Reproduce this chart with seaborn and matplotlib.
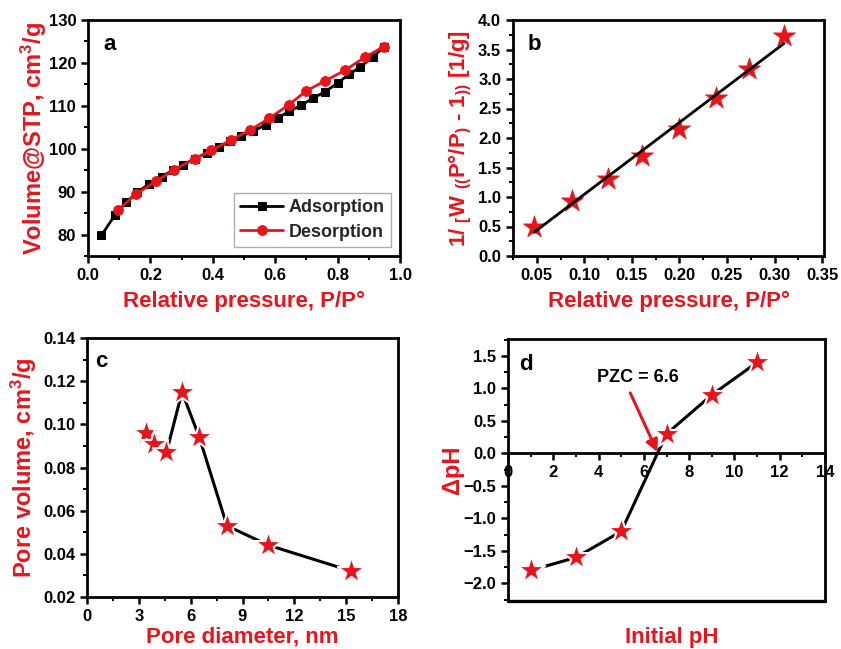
import numpy as np
import pandas as pd
import matplotlib
matplotlib.use("Agg")
import matplotlib.pyplot as plt
import seaborn as sns
from matplotlib.ticker import MultipleLocator

# ---------------- data ----------------
ads_p = [0.043, 0.086, 0.122, 0.158, 0.195, 0.236, 0.272, 0.306, 0.343, 0.38, 0.42, 0.455,
         0.49, 0.53, 0.57, 0.608, 0.645, 0.684, 0.722, 0.76, 0.8, 0.836, 0.873, 0.912, 0.95]
ads_v = [79.8, 84.5, 87.5, 89.8, 91.8, 93.5, 95.0, 96.3, 97.7, 99.0, 100.4, 101.7,
         102.9, 104.1, 105.6, 107.2, 108.7, 110.2, 111.8, 113.3, 115.3, 117.3, 119.1, 121.3, 123.8]
des_p = [0.096, 0.155, 0.218, 0.276, 0.342, 0.395, 0.457, 0.519, 0.581, 0.643, 0.70,
         0.76, 0.824, 0.887, 0.948]
des_v = [85.7, 89.5, 92.4, 95.1, 97.7, 99.6, 102.0, 104.3, 107.1, 110.2, 113.5,
         115.8, 118.3, 121.3, 123.8]

bet_p = [0.047, 0.087, 0.125, 0.161, 0.200, 0.238, 0.273, 0.310]
bet_y = [0.50, 0.93, 1.31, 1.69, 2.16, 2.68, 3.17, 3.73]

pore_d = [3.4, 3.9, 4.6, 5.5, 6.5, 8.1, 10.5, 15.3]
pore_v = [0.096, 0.091, 0.087, 0.115, 0.094, 0.053, 0.044, 0.032]

ph_init = [1, 3, 5, 7, 9, 11]
ph_delta = [-1.8, -1.6, -1.2, 0.3, 0.9, 1.4]
pzc_value = 6.6

# ---------------- style ----------------
sns.set_theme(style="ticks")
plt.rcParams["font.family"] = ["Liberation Sans", "DejaVu Sans"]
plt.rcParams.update({
    "font.weight": "bold",
    "axes.labelweight": "bold",
    "axes.linewidth": 2.0,
    "xtick.major.width": 1.8, "ytick.major.width": 1.8,
    "xtick.minor.width": 1.4, "ytick.minor.width": 1.4,
    "xtick.major.size": 5, "ytick.major.size": 5,
    "xtick.minor.size": 3, "ytick.minor.size": 3,
    "xtick.color": "black", "ytick.color": "black",
    "xtick.labelsize": 12, "ytick.labelsize": 12,
    "xtick.direction": "out", "ytick.direction": "out",
    "mathtext.fontset": "custom",
    "mathtext.rm": "Liberation Sans:bold",
    "mathtext.it": "Liberation Sans:bold",
    "mathtext.bf": "Liberation Sans:bold",
    "axes.edgecolor": "black",
})
RED = "#e8141b"

W, H = 841, 649
fig = plt.figure(figsize=(W / 100, H / 100), dpi=100)


def add_ax(l, t, r, b):
    return fig.add_axes([l / W, 1 - b / H, (r - l) / W, (b - t) / H])


axA = add_ax(88, 20, 400, 256)
axB = add_ax(513, 20, 824, 256)
axC = add_ax(87, 338, 398, 597)
axD = add_ax(508, 339, 825, 601)

for ax in (axA, axB, axC, axD):
    for s in ax.spines.values():
        s.set_linewidth(2.0)
        s.set_color("black")
    ax.tick_params(which="both", top=False, right=False)

XL = dict(fontsize=16, fontweight="bold", color=RED)
YL = dict(fontsize=17, fontweight="bold", color=RED)
PL = dict(fontsize=16, fontweight="bold", color="black")

# ---------------- panel a ----------------
df_a = pd.DataFrame({"p": ads_p, "v": ads_v})
df_d = pd.DataFrame({"p": des_p, "v": des_v})
sns.lineplot(data=df_a, x="p", y="v", ax=axA, color="black", marker="s", markersize=6,
             markeredgecolor="black", linewidth=2, label="Adsorption", estimator=None)
sns.lineplot(data=df_d, x="p", y="v", ax=axA, color=RED, marker="o", markersize=7,
             markeredgecolor=RED, linewidth=2, label="Desorption", estimator=None)
axA.set_xlim(0, 1.0)
axA.set_ylim(75, 130)
axA.xaxis.set_major_locator(MultipleLocator(0.2))
axA.xaxis.set_minor_locator(MultipleLocator(0.1))
axA.yaxis.set_minor_locator(MultipleLocator(5))
axA.set_yticks([80, 90, 100, 110, 120, 130])
axA.set_xlabel("Relative pressure, P/P°", **XL, labelpad=6)
axA.set_ylabel("Volume@STP, cm$^{3}$/g", **YL)
axA.yaxis.set_label_coords(-0.125, 0.5)
leg = axA.legend(loc="lower right", frameon=True, fancybox=False, edgecolor="#999999",
                 fontsize=13, handlelength=2.4, borderpad=0.35, labelspacing=0.4,
                 handletextpad=0.3, borderaxespad=0.5)
leg.get_frame().set_linewidth(1.0)
for t in leg.get_texts():
    t.set_fontweight("bold")
axA.text(0.048, 0.873, "a", transform=axA.transAxes, **PL)

# ---------------- panel b ----------------
df_b = pd.DataFrame({"p": bet_p, "y": bet_y})
sns.scatterplot(data=df_b, x="p", y="y", ax=axB, marker="*", s=280, color=RED,
                edgecolor=RED, linewidth=0.5, zorder=2)
sns.regplot(data=df_b, x="p", y="y", ax=axB, scatter=False, ci=None,
            line_kws=dict(color="black", linewidth=2, zorder=3))
axB.set_xlim(0.025, 0.352)
axB.set_ylim(0, 4.0)
axB.xaxis.set_minor_locator(MultipleLocator(0.025))
axB.yaxis.set_major_locator(MultipleLocator(0.5))
axB.yaxis.set_minor_locator(MultipleLocator(0.25))
axB.set_xticks([0.05, 0.10, 0.15, 0.20, 0.25, 0.30, 0.35])
axB.set_xticklabels(["0.05", "0.10", "0.15", "0.20", "0.25", "0.30", "0.35"])
axB.set_xlabel("Relative pressure, P/P°", **XL, labelpad=6)
axB.set_ylabel("1/ $_{[}$W $_{((}$P°/P$_{)}$ - 1$_{))}$ [1/g]", **dict(YL, fontsize=16))
axB.yaxis.set_label_coords(-0.125, 0.5)
axB.text(0.048, 0.873, "b", transform=axB.transAxes, **PL)

# ---------------- panel c ----------------
df_c = pd.DataFrame({"d": pore_d, "v": pore_v})
sns.lineplot(data=df_c, x="d", y="v", ax=axC, color="black", linewidth=2.2, estimator=None)
sns.scatterplot(data=df_c, x="d", y="v", ax=axC, marker="*", s=430, color=RED,
                edgecolor="white", linewidth=1.5, zorder=3)
axC.set_xlim(0, 18)
axC.set_ylim(0.02, 0.14)
axC.xaxis.set_major_locator(MultipleLocator(3))
axC.xaxis.set_minor_locator(MultipleLocator(1.5))
axC.yaxis.set_major_locator(MultipleLocator(0.02))
axC.yaxis.set_minor_locator(MultipleLocator(0.01))
axC.set_xlabel("Pore diameter, nm", **XL, labelpad=2)
axC.set_ylabel("Pore volume, cm$^{3}$/g", **YL)
axC.yaxis.set_label_coords(-0.155, 0.5)
axC.text(0.026, 0.888, "c", transform=axC.transAxes, **PL)

# ---------------- panel d ----------------
df_ph = pd.DataFrame({"x": ph_init, "y": ph_delta})
sns.lineplot(data=df_ph, x="x", y="y", ax=axD, color="black", linewidth=2.2, estimator=None)
sns.scatterplot(data=df_ph, x="x", y="y", ax=axD, marker="*", s=430, color=RED,
                edgecolor="white", linewidth=1.5, zorder=3)
axD.set_xlim(0, 14)
axD.set_ylim(-2.27, 1.76)
axD.spines["bottom"].set_position(("data", 0))
axD.plot([0, 1], [0, 0], transform=axD.transAxes, color="black", lw=2.4, clip_on=False)
axD.xaxis.set_major_locator(MultipleLocator(2))
axD.xaxis.set_minor_locator(MultipleLocator(1))
axD.yaxis.set_minor_locator(MultipleLocator(0.25))
axD.set_yticks([-2.0, -1.5, -1.0, -0.5, 0.0, 0.5, 1.0, 1.5])
axD.set_xlabel("")
axD.set_ylabel("ΔpH", **YL)
axD.yaxis.set_label_coords(-0.14, 0.5)
fig.text(672 / W, 1 - 648 / H, "Initial pH", ha="center", va="bottom", **XL)
axD.annotate("", xy=(pzc_value, 0.02), xytext=(5.4, 0.93),
             arrowprops=dict(arrowstyle="-|>", color=RED, lw=2.2, mutation_scale=18,
                             shrinkA=0, shrinkB=0))
axD.text(5.72, 1.17, "PZC = 6.6", ha="center", va="center", fontsize=13,
         fontweight="bold", color="black")
axD.text(0.035, 0.88, "d", transform=axD.transAxes, **PL)

for ax in (axA, axB, axC, axD):
    for lab in ax.get_xticklabels() + ax.get_yticklabels():
        lab.set_fontweight("bold")

fig.savefig("out.png", dpi=100)
